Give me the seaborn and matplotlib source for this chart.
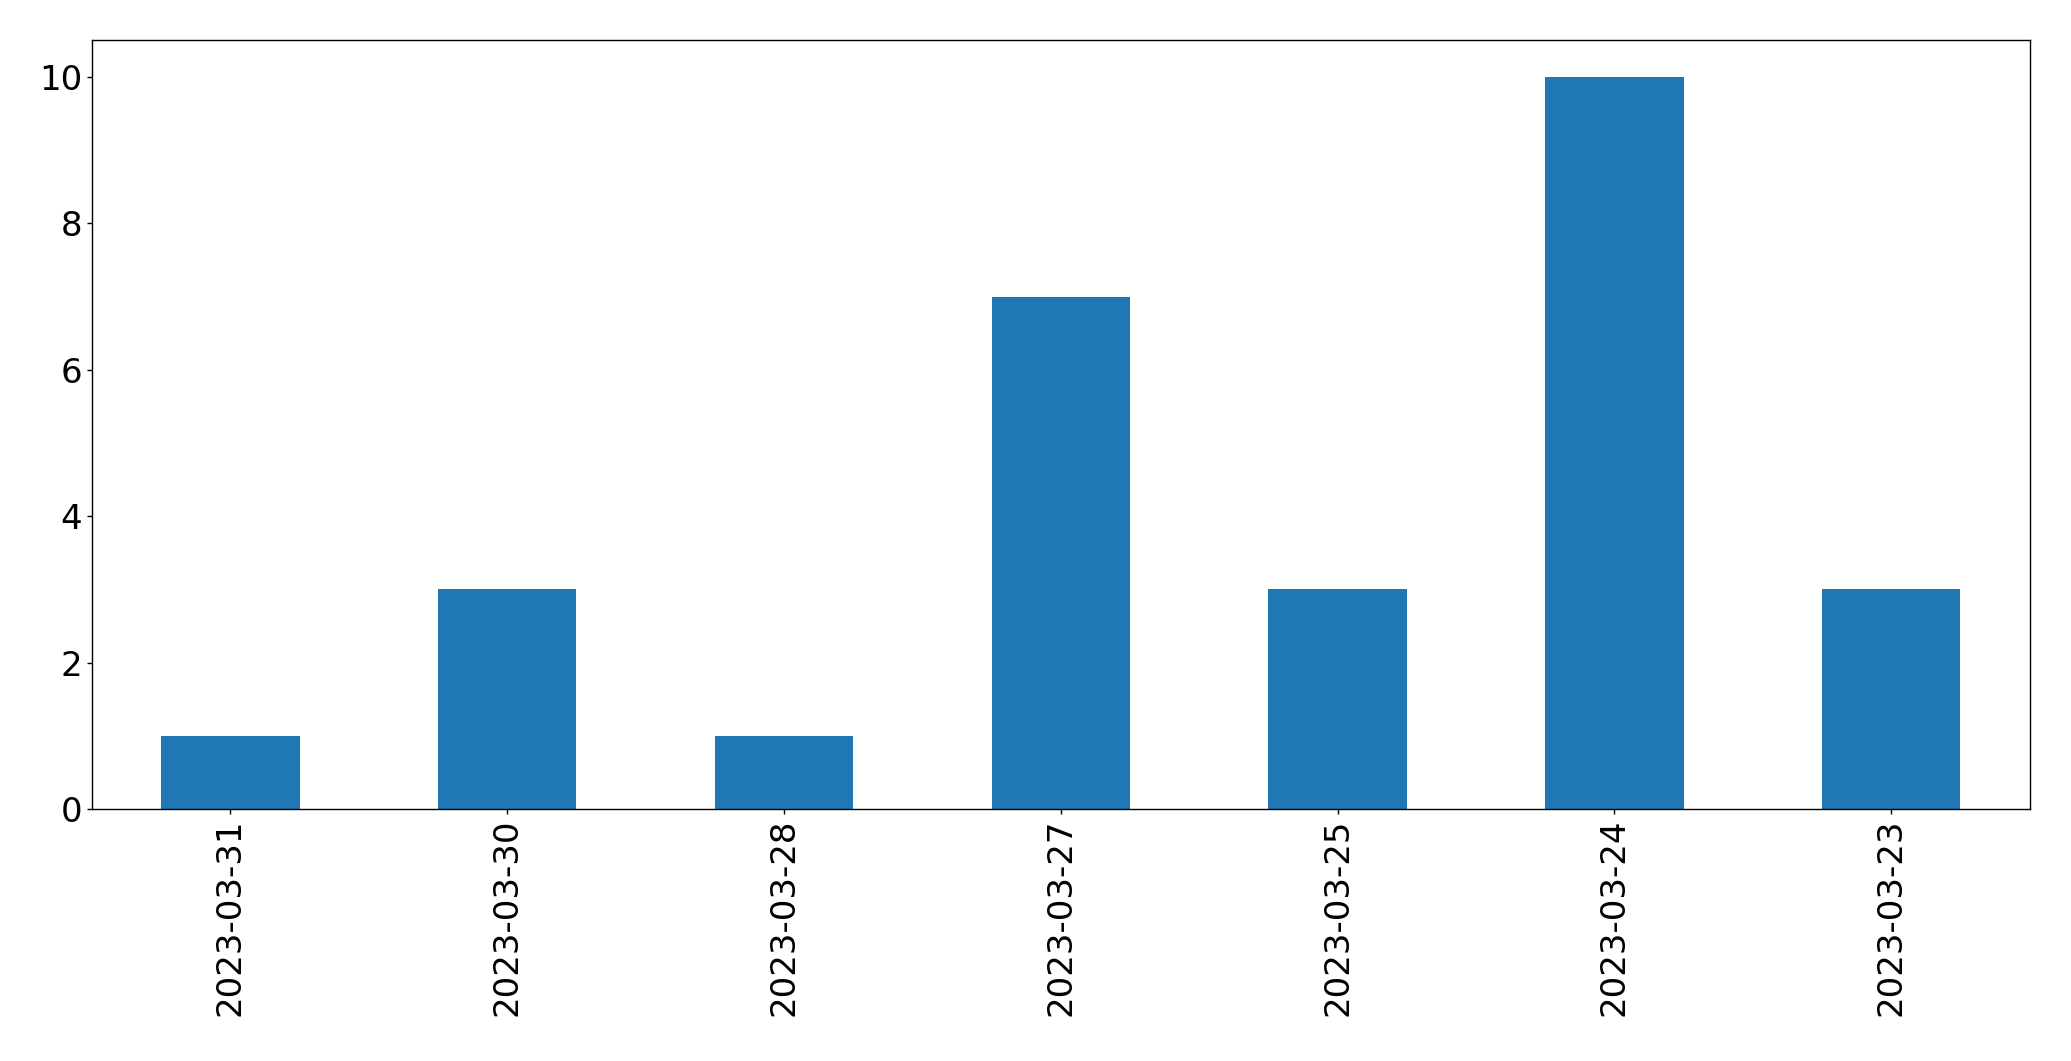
import matplotlib
matplotlib.use('Agg')
import matplotlib.pyplot as plt
import seaborn as sns
import pandas as pd

# values
dates = ['2023-03-31', '2023-03-30', '2023-03-28', '2023-03-27',
         '2023-03-25', '2023-03-24', '2023-03-23']
counts = [1, 3, 1, 7, 3, 10, 3]

df = pd.DataFrame({'date': dates, 'count': counts})

plt.rcParams['font.family'] = ['DejaVu Sans']
plt.rcParams['font.size'] = 24.5

fig = plt.figure(figsize=(20.71, 10.61), dpi=100)
ax = fig.add_axes([0.0444, 0.2375, 0.9356, 0.7245])

sns.barplot(data=df, x='date', y='count', order=dates, color='#1f77b4',
            saturation=1, width=0.5, ax=ax)

ax.set_xlabel('')
ax.set_ylabel('')
ax.set_ylim(0, 10.5)
ax.set_yticks([0, 2, 4, 6, 8, 10])
ax.tick_params(axis='both', labelsize=24.5, length=3.5, width=1)
ax.tick_params(axis='x', rotation=90)
for s in ax.spines.values():
    s.set_visible(True)
    s.set_linewidth(1)

fig.savefig('out.png', dpi=100)
